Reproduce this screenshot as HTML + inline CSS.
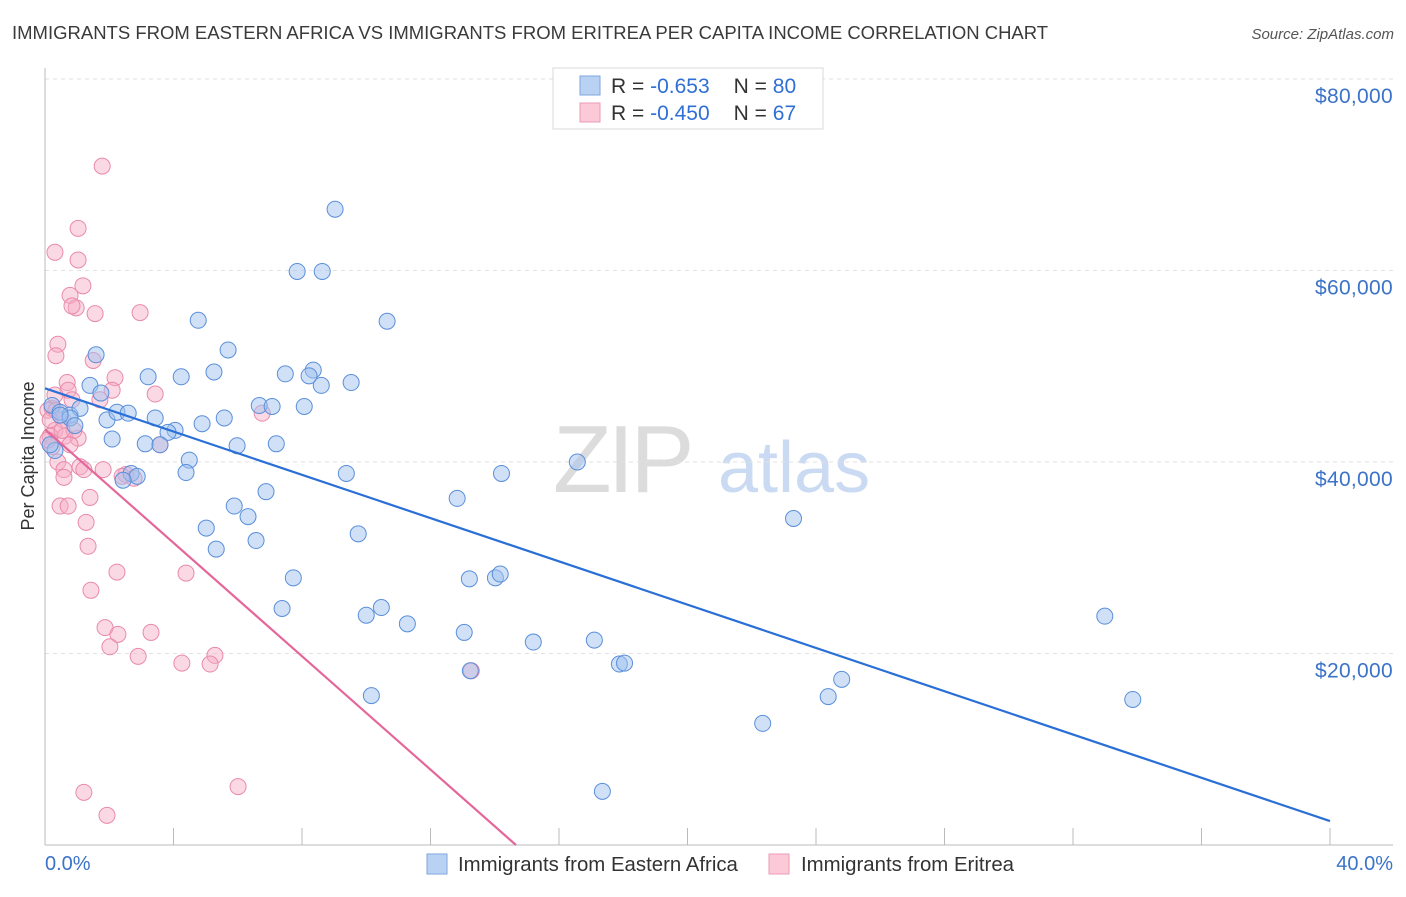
<!DOCTYPE html>
<html><head><meta charset="utf-8"><style>
body{margin:0;background:#fff;font-family:"Liberation Sans",sans-serif;}
svg text{font-family:"Liberation Sans",sans-serif;}
</style></head><body>
<svg id="chart" width="1406" height="892" xmlns="http://www.w3.org/2000/svg">
<text x="12" y="39" font-size="18.5" fill="#3a3a3a">IMMIGRANTS FROM EASTERN AFRICA VS IMMIGRANTS FROM ERITREA PER CAPITA INCOME CORRELATION CHART</text>
<text x="1394" y="39" font-size="15" fill="#555" font-style="italic" text-anchor="end">Source: ZipAtlas.com</text>
<g>
<text x="553" y="492" font-size="96" font-family="Liberation Serif, serif" fill="#dcdcdc" letter-spacing="-4">ZIP</text>
<text x="718" y="492" font-size="72" fill="#c9daf2">atlas</text>
</g>
<g id="grid"></g>
<g id="axes"></g>
<g id="marks"></g>
<text transform="translate(34,456) rotate(-90)" font-size="18" fill="#333" text-anchor="middle">Per Capita Income</text>
<g>
<rect x="553" y="68" width="270" height="61" fill="#fff" stroke="#d8d8d8"/>
<rect x="580" y="76" width="20" height="19" fill="#b9d1f3" stroke="#7ea6e0"/>
<rect x="580" y="103" width="20" height="19" fill="#fbc9d8" stroke="#eb9ab5"/>
<text x="611" y="93" font-size="21" fill="#333">R = <tspan fill="#2f6fd6">-0.653</tspan><tspan dx="24">N = </tspan><tspan fill="#2f6fd6">80</tspan></text>
<text x="611" y="120" font-size="21" fill="#333">R = <tspan fill="#2f6fd6">-0.450</tspan><tspan dx="24">N = </tspan><tspan fill="#2f6fd6"> 67</tspan></text>
</g>
<g>
<rect x="427" y="854" width="20" height="20" fill="#b9d1f3" stroke="#7ea6e0"/>
<text x="458" y="871" font-size="20.4" fill="#333">Immigrants from Eastern Africa</text>
<rect x="769" y="854" width="20" height="20" fill="#fbc9d8" stroke="#eb9ab5"/>
<text x="801" y="871" font-size="20.4" fill="#333">Immigrants from Eritrea</text>
</g>
</svg>
<script>
const yTicks=[20000,40000,60000,80000];
const yTickLabels=["$20,000","$40,000","$60,000","$80,000"];
const xTicks=[0,4,8,12,16,20,24,28,32,36,40];
const xEndLabels=["0.0%","40.0%"];
const blueX=[9.03,7.85,8.63,10.65,4.77,5.70,1.59,1.40,3.21,4.24,5.26,7.48,8.35,8.22,8.60,9.53,1.74,0.22,0.47,0.78,1.09,1.93,2.24,2.59,3.43,4.89,5.58,4.05,3.83,2.09,3.12,3.58,5.98,7.20,6.67,7.07,8.07,0.31,4.49,4.39,2.68,2.87,2.43,9.38,14.21,16.57,12.83,5.89,6.88,6.32,5.02,5.33,6.57,9.75,23.30,7.73,13.21,14.02,14.17,7.38,10.47,10.00,11.28,13.05,15.20,17.10,17.88,18.04,32.99,24.80,24.38,33.86,10.16,13.24,22.34,17.35,0.78,0.47,0.16,0.93];
const blueY=[66.4,59.9,59.9,54.7,54.8,51.7,51.2,48.0,48.9,48.9,49.4,49.2,49.6,49.0,48.0,48.3,47.2,45.9,45.2,44.9,45.6,44.4,45.2,45.1,44.6,44.0,44.6,43.3,43.1,42.4,41.9,41.8,41.7,41.9,45.9,45.8,45.8,41.2,40.2,38.9,38.8,38.5,38.1,38.8,38.8,40.0,36.2,35.4,36.9,34.3,33.1,30.9,31.8,32.5,34.1,27.9,27.8,27.9,28.3,24.7,24.8,24.0,23.1,22.2,21.2,21.4,18.9,19.0,23.9,17.3,15.5,15.2,15.6,18.2,12.7,5.6,44.6,44.9,41.8,43.8];
const pinkX=[1.78,1.03,0.31,1.03,1.18,0.78,0.97,0.84,1.56,2.96,0.40,0.34,1.50,2.18,0.69,0.72,2.09,3.43,1.71,0.22,0.09,0.34,0.56,6.76,0.31,0.16,0.62,1.03,0.90,0.22,0.40,0.59,1.09,1.21,1.81,2.52,2.77,2.40,0.59,0.47,0.72,1.40,1.28,1.34,2.24,4.39,1.43,1.87,2.27,3.30,2.02,2.90,5.29,4.26,5.14,13.27,1.21,6.01,1.93,0.09,3.58,0.16,0.53,0.78,0.31,0.84];
const pinkY=[70.9,64.4,61.9,61.1,58.4,57.4,56.1,56.3,55.5,55.6,52.3,51.1,50.6,48.8,48.3,47.5,47.5,47.1,46.5,45.6,45.4,45.4,44.4,45.1,43.3,42.7,42.7,42.5,43.3,41.6,40.0,39.2,39.5,39.2,39.2,38.7,38.3,38.5,38.4,35.4,35.4,36.3,33.7,31.2,28.5,28.4,26.6,22.7,22.0,22.2,20.7,19.7,19.8,19.0,18.9,18.2,5.5,6.1,3.1,42.3,41.8,44.4,43.3,41.8,47.0,46.5];
const blueTrend=[[0,47.7],[40,2.5]];
const pinkTrend=[[0,43.4],[14.66,0]];

const NS="http://www.w3.org/2000/svg";
const X0=45,X1=1330,YB=845,PPK=191.5/20;
function sx(v){return X0+(v/40)*(X1-X0);}
function sy(k){return YB-k*PPK;}
function mk(tag,attrs,parent){const e=document.createElementNS(NS,tag);for(const k in attrs)e.setAttribute(k,attrs[k]);parent.appendChild(e);return e;}
const grid=document.getElementById('grid'),axes=document.getElementById('axes'),marks=document.getElementById('marks');
yTicks.forEach((t,i)=>{
  const y=sy(t/1000);
  const l=mk('line',{x1:X0,x2:1393,y1:y,y2:y,stroke:'#e2e2e2','stroke-dasharray':'4,4'},grid);
  
  
  const tx=mk('text',{x:1393,y:y+24,'font-size':21,'letter-spacing':0.3,fill:'#3b73c9','text-anchor':'end'},axes);
  tx.textContent=yTickLabels[i];
  
  
});
const yl=mk('line',{x1:X0,x2:X0,y1:68,y2:YB,stroke:'#bbb'},axes);


const xl=mk('line',{x1:X0,x2:1393,y1:YB,y2:YB,stroke:'#bbb'},axes);


xTicks.forEach(t=>{
  const x=sx(t);
  const l=mk('line',{x1:x,x2:x,y1:828,y2:YB,stroke:'#bbb'},axes);
  
  
});
const xa=mk('text',{x:X0,y:870,'font-size':20,fill:'#3b73c9'},axes);
xa.textContent=xEndLabels[0];


const xb=mk('text',{x:1393,y:870,'font-size':20,fill:'#3b73c9','text-anchor':'end'},axes);
xb.textContent=xEndLabels[1];



pinkX.forEach((v,i)=>{
  const c=mk('circle',{cx:sx(v),cy:sy(pinkY[i]),r:8,fill:'rgba(246,170,196,0.45)',stroke:'#e98aab','stroke-width':1},marks);
  
  
});
blueX.forEach((v,i)=>{
  const c=mk('circle',{cx:sx(v),cy:sy(blueY[i]),r:8,fill:'rgba(160,194,240,0.5)',stroke:'#5a8fda','stroke-width':1},marks);
  
  
});
const bt=mk('line',{x1:sx(blueTrend[0][0]),y1:sy(blueTrend[0][1]),x2:sx(blueTrend[1][0]),y2:sy(blueTrend[1][1]),stroke:'#2a6fd6','stroke-width':2.2},marks);


const pt=mk('line',{x1:sx(pinkTrend[0][0]),y1:sy(pinkTrend[0][1]),x2:sx(pinkTrend[1][0]),y2:sy(pinkTrend[1][1]),stroke:'#e5679a','stroke-width':2.2},marks);


</script>
</body></html>
